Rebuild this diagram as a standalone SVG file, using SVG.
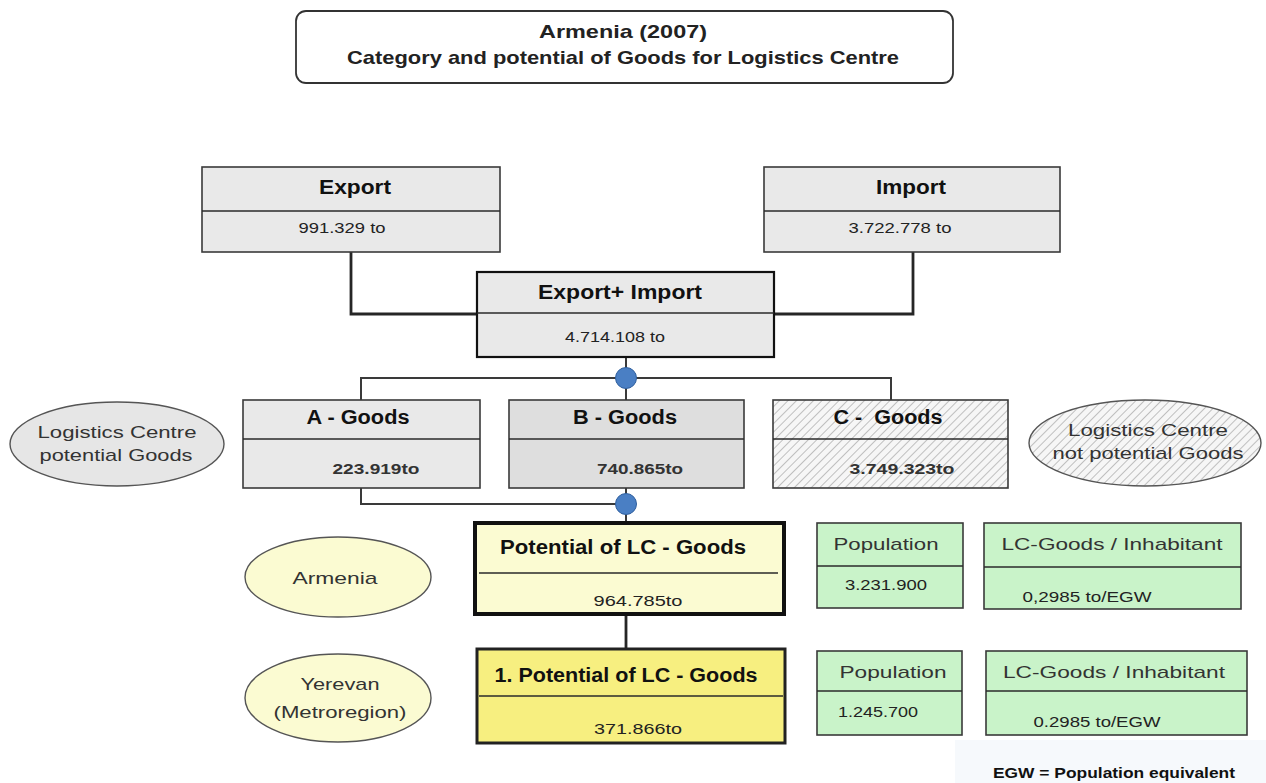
<svg xmlns="http://www.w3.org/2000/svg" width="1266" height="783" viewBox="0 0 1266 783">
  <style>
    .bx { stroke: #3a3a3a; stroke-width: 1.6; }
    .gray { fill: #e9e9e9; }
    .mid { fill: #dedede; }
    .pale { fill: #fbfbd2; }
    .yel { fill: #f7ef80; }
    .grn { fill: #c9f3c9; }
    .div { stroke: #2a2a2a; stroke-width: 1.4; }
    text { font-family: "Liberation Sans", Arial, sans-serif; text-anchor: middle; }
    .h { font-weight: bold; font-size: 20px; fill: #111; }
    .v { font-size: 15px; fill: #222; }
    .vb { font-size: 14px; font-weight: bold; fill: #333; }
    .n { font-size: 17px; fill: #333; }
    .conn { stroke: #262626; stroke-width: 2.8; fill: none; }
    .conn2 { stroke: #3a3a3a; stroke-width: 2; fill: none; }
    .dot { fill: #4a7fc4; stroke: #2f5f9e; stroke-width: 1; }
  </style>
  <defs>
    <pattern id="hatch" width="6" height="6" patternUnits="userSpaceOnUse" patternTransform="rotate(45)">
      <rect width="6" height="6" fill="#f6f6f6"/>
      <line x1="0" y1="0" x2="0" y2="6" stroke="#9a9a9a" stroke-width="1.2"/>
    </pattern>
  </defs>
  <rect width="1266" height="783" fill="#ffffff"/>

  <!-- heading -->
  <g id="title">
    <rect x="296" y="11" width="657" height="72" rx="10" fill="#ffffff" stroke="#333" stroke-width="1.8"/>
    <text x="623" y="38" font-family="Open Sans, Liberation Sans, sans-serif" font-weight="600" font-size="19" fill="#222" textLength="168" lengthAdjust="spacingAndGlyphs">Armenia (2007)</text>
    <text x="623" y="64" font-family="Open Sans, Liberation Sans, sans-serif" font-weight="600" font-size="19" fill="#222" textLength="552" lengthAdjust="spacingAndGlyphs">Category and potential of Goods for Logistics Centre</text>
  </g>

  <!-- connectors -->
  <g id="connectors">
    <polyline class="conn" points="351,252 351,314 477,314"/>
    <polyline class="conn" points="913,252 913,314 774,314"/>
    <line class="conn2" x1="626" y1="357" x2="626" y2="400"/>
    <polyline class="conn2" points="361,400 361,378 891,378 891,400"/>
    <polyline class="conn2" points="361,488 361,504 626,504"/>
    <line class="conn2" x1="626" y1="488" x2="626" y2="523"/>
    <line class="conn" x1="626" y1="614" x2="626" y2="649"/>
    <circle class="dot" cx="626" cy="378" r="10.5"/>
    <circle class="dot" cx="626" cy="504" r="10.5"/>
  </g>

  <g id="export">
    <rect class="bx gray" x="202" y="167" width="298" height="85"/>
    <line class="div" x1="202" y1="211" x2="500" y2="211"/>
    <text class="h" x="355" y="194" textLength="72" lengthAdjust="spacingAndGlyphs">Export</text>
    <text class="v" x="342" y="233" textLength="87" lengthAdjust="spacingAndGlyphs">991.329 to</text>
  </g>

  <g id="import">
    <rect class="bx gray" x="764" y="167" width="296" height="85"/>
    <line class="div" x1="764" y1="211" x2="1060" y2="211"/>
    <text class="h" x="911" y="194" textLength="70" lengthAdjust="spacingAndGlyphs">Import</text>
    <text class="v" x="900" y="233" textLength="103" lengthAdjust="spacingAndGlyphs">3.722.778 to</text>
  </g>

  <g id="export-import">
    <rect class="gray" x="477" y="272" width="297" height="85" stroke="#111" stroke-width="2.2"/>
    <line class="div" x1="477" y1="313" x2="774" y2="313"/>
    <text class="h" x="620" y="299" textLength="164" lengthAdjust="spacingAndGlyphs">Export+ Import</text>
    <text class="v" x="615" y="342" textLength="100" lengthAdjust="spacingAndGlyphs">4.714.108 to</text>
  </g>

  <g id="lc-potential">
    <ellipse cx="117" cy="444" rx="107" ry="42" fill="#e6e6e6" stroke="#555" stroke-width="1.4"/>
    <text class="n" x="117" y="438" textLength="159" lengthAdjust="spacingAndGlyphs">Logistics Centre</text>
    <text class="n" x="116" y="461" textLength="153" lengthAdjust="spacingAndGlyphs">potential Goods</text>
  </g>

  <g id="a-goods">
    <rect class="bx gray" x="243" y="400" width="237" height="88"/>
    <line class="div" x1="243" y1="439" x2="480" y2="439"/>
    <text class="h" x="358" y="424" textLength="103" lengthAdjust="spacingAndGlyphs">A - Goods</text>
    <text class="vb" x="376" y="474" textLength="87" lengthAdjust="spacingAndGlyphs">223.919to</text>
  </g>

  <g id="b-goods">
    <rect class="bx mid" x="509" y="400" width="235" height="88"/>
    <line class="div" x1="509" y1="439" x2="744" y2="439"/>
    <text class="h" x="625" y="424" textLength="104" lengthAdjust="spacingAndGlyphs">B - Goods</text>
    <text class="vb" x="640" y="474" textLength="86" lengthAdjust="spacingAndGlyphs">740.865to</text>
  </g>

  <g id="c-goods">
    <rect class="bx" x="773" y="400" width="235" height="88" fill="url(#hatch)"/>
    <line class="div" x1="773" y1="439" x2="1008" y2="439"/>
    <text class="h" x="888" y="424" textLength="109" lengthAdjust="spacingAndGlyphs" xml:space="preserve">C -  Goods</text>
    <text class="vb" x="902" y="474" textLength="105" lengthAdjust="spacingAndGlyphs">3.749.323to</text>
  </g>

  <g id="lc-not-potential">
    <ellipse cx="1145" cy="443" rx="116" ry="43" fill="url(#hatch)" stroke="#555" stroke-width="1.4"/>
    <text class="n" x="1148" y="436" textLength="160" lengthAdjust="spacingAndGlyphs">Logistics Centre</text>
    <text class="n" x="1148" y="459" textLength="191" lengthAdjust="spacingAndGlyphs">not potential Goods</text>
  </g>

  <g id="armenia">
    <ellipse cx="338" cy="577" rx="93" ry="40" fill="#fbfbd2" stroke="#555" stroke-width="1.4"/>
    <text class="n" x="335" y="584" textLength="85" lengthAdjust="spacingAndGlyphs">Armenia</text>
  </g>

  <g id="potential-armenia">
    <rect class="pale" x="475" y="523" width="309" height="91" stroke="#111" stroke-width="4"/>
    <line class="div" x1="479" y1="573" x2="778" y2="573"/>
    <text class="h" x="623" y="554" font-size="19" textLength="246" lengthAdjust="spacingAndGlyphs">Potential of LC - Goods</text>
    <text class="v" x="638" y="606" textLength="89" lengthAdjust="spacingAndGlyphs">964.785to</text>
  </g>

  <g id="population-armenia">
    <rect class="bx grn" x="817" y="523" width="146" height="85"/>
    <line class="div" x1="817" y1="566" x2="963" y2="566"/>
    <text class="n" x="886" y="550" textLength="105" lengthAdjust="spacingAndGlyphs">Population</text>
    <text class="v" x="886" y="590" textLength="82" lengthAdjust="spacingAndGlyphs">3.231.900</text>
  </g>

  <g id="ratio-armenia">
    <rect class="bx grn" x="984" y="523" width="257" height="86"/>
    <line class="div" x1="984" y1="567" x2="1241" y2="567"/>
    <text class="n" x="1112" y="550" textLength="221" lengthAdjust="spacingAndGlyphs">LC-Goods / Inhabitant</text>
    <text class="v" x="1087" y="602" textLength="129" lengthAdjust="spacingAndGlyphs">0,2985 to/EGW</text>
  </g>

  <g id="yerevan">
    <ellipse cx="338" cy="698" rx="93" ry="44" fill="#fbfbd2" stroke="#555" stroke-width="1.4"/>
    <text class="n" x="340" y="690" textLength="79" lengthAdjust="spacingAndGlyphs">Yerevan</text>
    <text class="n" x="340" y="718" textLength="133" lengthAdjust="spacingAndGlyphs">(Metroregion)</text>
  </g>

  <g id="potential-yerevan">
    <rect class="yel" x="477" y="649" width="308" height="94" stroke="#222" stroke-width="3"/>
    <line class="div" x1="479" y1="696" x2="783" y2="696"/>
    <text class="h" x="626" y="682" textLength="263" lengthAdjust="spacingAndGlyphs">1. Potential of LC - Goods</text>
    <text class="v" x="638" y="734" textLength="88" lengthAdjust="spacingAndGlyphs">371.866to</text>
  </g>

  <g id="population-yerevan">
    <rect class="bx grn" x="817" y="651" width="145" height="84"/>
    <line class="div" x1="817" y1="691" x2="962" y2="691"/>
    <text class="n" x="893" y="678" textLength="107" lengthAdjust="spacingAndGlyphs">Population</text>
    <text class="v" x="878" y="717" textLength="80" lengthAdjust="spacingAndGlyphs">1.245.700</text>
  </g>

  <g id="ratio-yerevan">
    <rect class="bx grn" x="986" y="651" width="261" height="84"/>
    <line class="div" x1="986" y1="691" x2="1247" y2="691"/>
    <text class="n" x="1114" y="678" textLength="222" lengthAdjust="spacingAndGlyphs">LC-Goods / Inhabitant</text>
    <text class="v" x="1097" y="727" textLength="127" lengthAdjust="spacingAndGlyphs">0.2985 to/EGW</text>
  </g>

  <g id="legend">
    <rect x="955" y="740" width="311" height="43" fill="#f6f9fc"/>
    <text x="1114" y="778" font-weight="bold" font-size="15" fill="#111" textLength="242" lengthAdjust="spacingAndGlyphs">EGW = Population equivalent</text>
  </g>
</svg>
